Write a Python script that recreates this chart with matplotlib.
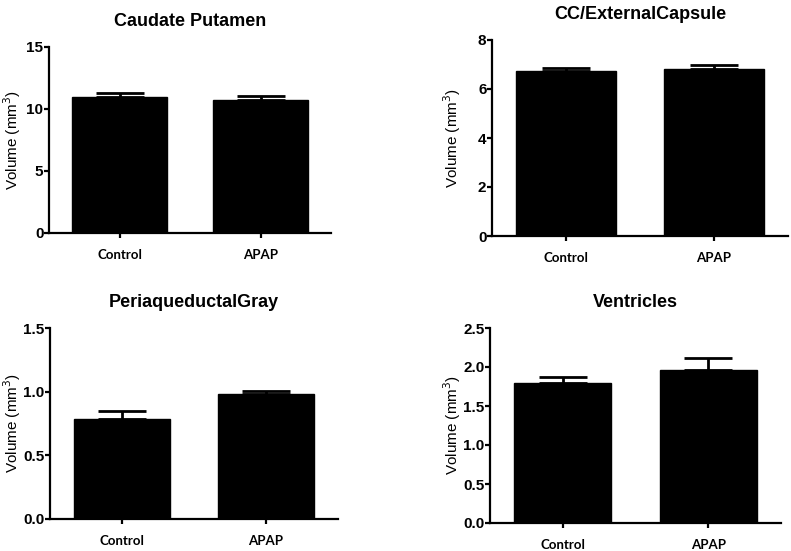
import matplotlib
matplotlib.use("Agg")
import matplotlib.pyplot as plt
import numpy as np

categories = ["Control", "APAP"]
titles = ["Caudate Putamen", "CC/ExternalCapsule", "PeriaqueductalGray", "Ventricles"]
means = [
    [10.94, 10.75],
    [6.75, 6.83],
    [0.785, 0.982],
    [1.80, 1.966],
]
errors = [
    [0.36, 0.27],
    [0.11, 0.14],
    [0.063, 0.02],
    [0.076, 0.144],
]
ylims = [15, 8, 1.5, 2.5]
yticks = [
    [0, 5, 10, 15],
    [0, 2, 4, 6, 8],
    [0.0, 0.5, 1.0, 1.5],
    [0.0, 0.5, 1.0, 1.5, 2.0, 2.5],
]
ytick_fmt = ["{:.0f}", "{:.0f}", "{:.1f}", "{:.1f}"]

W, H = 791, 551
fig = plt.figure(figsize=(W / 100, H / 100), dpi=100)

# pixel boxes: left, right, top, bottom
boxes = [
    (49, 331, 47, 233),
    (492, 788, 40, 236),
    (50, 338, 328, 519),
    (490, 781, 328, 523),
]
# y-label right edge offset from the y axis, in pixels
label_off = [-26, -29, -27, -27]

for i, (l, r, t, b) in enumerate(boxes):
    ax = fig.add_axes([l / W, 1 - b / H, (r - l) / W, (b - t) / H])
    x = np.arange(len(categories))
    ax.bar(x, means[i], width=0.67, color="black", edgecolor="black", zorder=2)
    ax.errorbar(x, means[i], yerr=[np.zeros(2), errors[i]], fmt="none",
                ecolor="black", elinewidth=2.0, capsize=17, capthick=2.0, zorder=3)
    ax.set_xlim(-0.5, 1.5)
    ax.set_ylim(0, ylims[i])
    ax.set_yticks(yticks[i])
    ax.set_yticklabels([ytick_fmt[i].format(v) for v in yticks[i]],
                       fontfamily="Liberation Sans", fontweight="bold", fontsize=11)
    ax.set_xticks(x)
    ax.set_xticklabels(categories, fontfamily="Lato", fontweight="bold", fontsize=9.5)
    for s in ["top", "right"]:
        ax.spines[s].set_visible(False)
    for s in ["left", "bottom"]:
        ax.spines[s].set_linewidth(1.6)
    ax.tick_params(axis="y", direction="out", length=3.5, width=1.6, pad=0.5)
    ax.tick_params(axis="x", direction="out", length=3.5, width=1.6, pad=8)
    ax.set_ylabel("Volume (mm$^3$)", fontfamily="Liberation Sans", fontsize=11)
    ax.yaxis.set_label_coords(label_off[i] / (r - l), 0.5)
    ax.set_title(titles[i], fontfamily="Liberation Sans", fontweight="bold",
                 fontsize=13, pad=15)

fig.savefig("out.png", dpi=100)
